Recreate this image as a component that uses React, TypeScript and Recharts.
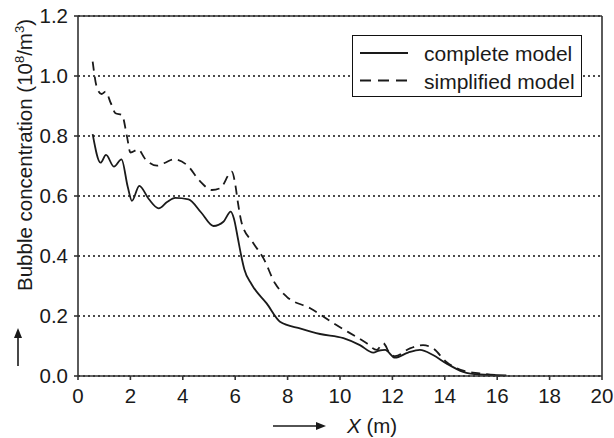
import { LineChart, Line, XAxis, YAxis, CartesianGrid, ReferenceLine, Label } from 'recharts';

// complete model (solid)
const completeX = [
  0.56, 0.86, 1.07, 1.37, 1.66, 1.9, 2.06, 2.34, 2.7, 3.08, 3.4, 3.71, 4.22, 4.7, 5.17, 5.55, 5.83,
  5.95, 6.1, 6.22, 6.35, 6.63, 7.2, 7.71, 8.5, 9.24, 10.13, 10.76, 11.27, 11.5, 11.72, 12.1, 12.6,
  13.05, 13.55, 14.06, 14.7, 15.33, 16.35,
];
const completeY = [
  0.806, 0.711, 0.737, 0.698, 0.722, 0.63, 0.584, 0.634, 0.59, 0.559, 0.58, 0.594, 0.589, 0.545, 0.5,
  0.514, 0.548, 0.525, 0.46, 0.405, 0.355, 0.305, 0.242, 0.181, 0.158, 0.14, 0.126, 0.103, 0.078,
  0.085, 0.087, 0.061, 0.078, 0.087, 0.07, 0.042, 0.014, 0.005, 0.002,
];

// simplified model (dashed)
const simplifiedX = [
  0.56, 0.73, 0.9, 1.05, 1.25, 1.43, 1.68, 1.87, 2.0, 2.3, 2.55, 3.02, 3.3, 3.65, 4.16, 4.67, 5.11,
  5.43, 5.87, 6.0, 6.1, 6.25, 6.7, 7.08, 7.52, 7.97, 8.86, 9.75, 11.02, 11.4, 11.65, 11.9, 12.1,
  12.67, 13.17, 13.55, 14.06, 14.7, 15.33, 16.1,
];
const simplifiedY = [
  1.048, 0.959, 0.94, 0.948, 0.91, 0.876, 0.87, 0.798, 0.745, 0.755, 0.725, 0.701, 0.71, 0.722, 0.703,
  0.648, 0.62, 0.626, 0.681, 0.64, 0.58, 0.509, 0.442, 0.392, 0.309, 0.264, 0.226, 0.176, 0.109,
  0.087, 0.109, 0.076, 0.066, 0.092, 0.103, 0.092, 0.047, 0.018, 0.009, 0.002,
];

const xTicks = [0, 2, 4, 6, 8, 10, 12, 14, 16, 18, 20];
const yTicks = [0, 0.2, 0.4, 0.6, 0.8, 1.0, 1.2];
const seriesNames = ['complete model', 'simplified model'];

const completeData = completeX.map((x, i) => ({ x, y: completeY[i] }));
const simplifiedData = simplifiedX.map((x, i) => ({ x, y: simplifiedY[i] }));

const FONT = '"Liberation Sans", Arial, sans-serif';
const INK = '#1a1a1a';
const AXIS = '#333';
const FS = 20.5;

// legend drawn as an overlay so it doesn't take space from the plot
const LegendBox = () => (
  <svg
    width={614}
    height={438}
    style={{ position: 'absolute', left: 0, top: 0, pointerEvents: 'none' }}
  >
    <rect x={352.5} y={35.5} width={229} height={61} fill="#fff" stroke="#111" strokeWidth={1} />
    {seriesNames.map((name, i) => (
      <g key={name}>
        <line
          x1={360}
          x2={408}
          y1={53 + i * 27.5}
          y2={53 + i * 27.5}
          stroke={INK}
          strokeWidth={1.8}
          strokeDasharray={i === 1 ? '11 7' : undefined}
        />
        <text x={424} y={60.5 + i * 28} fontFamily={FONT} fontSize={21} fill={INK}>
          {name}
        </text>
      </g>
    ))}
  </svg>
);

const YTitle = () => (
  <g>
    <text
      transform="translate(32,155) rotate(-90)"
      textAnchor="middle"
      fontFamily={FONT}
      fontSize={FS}
      fill={INK}
    >
      Bubble concentration (10
      <tspan fontSize={13} dy={-8}>8</tspan>
      <tspan dy={8}>/m</tspan>
      <tspan fontSize={13} dy={-8}>3</tspan>
      <tspan dy={8}>)</tspan>
    </text>
    <line x1={18} x2={18} y1={366} y2={336} stroke={INK} strokeWidth={1.6} />
    <polygon points="18,328 14,338 22,338" fill={INK} />
  </g>
);

const XTitle = () => (
  <g>
    <line x1={273} x2={317} y1={426} y2={426} stroke={INK} strokeWidth={1.6} />
    <polygon points="326,426 316,422 316,430" fill={INK} />
    <text x={347} y={433} fontFamily={FONT} fontSize={FS} fill={INK}>
      <tspan fontStyle="italic">X</tspan> (m)
    </text>
  </g>
);

export default function App() {
  return (
    <div style={{ position: 'absolute', left: 0, top: 0, width: 614, height: 438, background: '#fff' }}>
      <LineChart width={614} height={438} margin={{ top: 16, right: 12, bottom: 32, left: 8 }}>
        <CartesianGrid vertical={false} stroke="#111" strokeDasharray="2 3" strokeWidth={1.3} />
        <XAxis
          type="number"
          dataKey="x"
          domain={[0, 20]}
          ticks={xTicks}
          allowDuplicatedCategory={false}
          height={30}
          stroke={AXIS}
          strokeWidth={1.6}
          tickSize={4}
          tickMargin={8}
          tick={{ fill: INK, fontSize: FS, fontFamily: FONT }}
        >
          <Label content={<XTitle />} />
        </XAxis>
        <YAxis
          type="number"
          dataKey="y"
          domain={[0, 1.2]}
          ticks={yTicks}
          tickFormatter={(v: number) => v.toFixed(1)}
          width={70}
          stroke={AXIS}
          strokeWidth={1.6}
          tickSize={4}
          tickMargin={6}
          tick={{ fill: INK, fontSize: FS, fontFamily: FONT }}
        >
          <Label content={<YTitle />} />
        </YAxis>
        <ReferenceLine y={1.2} stroke={AXIS} strokeWidth={1.6} />
        <ReferenceLine x={20} stroke={AXIS} strokeWidth={1.6} />
        <Line
          data={completeData}
          dataKey="y"
          name={seriesNames[0]}
          type="monotone"
          stroke={INK}
          strokeWidth={1.8}
          dot={false}
          isAnimationActive={false}
        />
        <Line
          data={simplifiedData}
          dataKey="y"
          name={seriesNames[1]}
          type="monotone"
          stroke={INK}
          strokeWidth={1.8}
          strokeDasharray="9 6"
          dot={false}
          isAnimationActive={false}
        />
      </LineChart>
      <LegendBox />
    </div>
  );
}
